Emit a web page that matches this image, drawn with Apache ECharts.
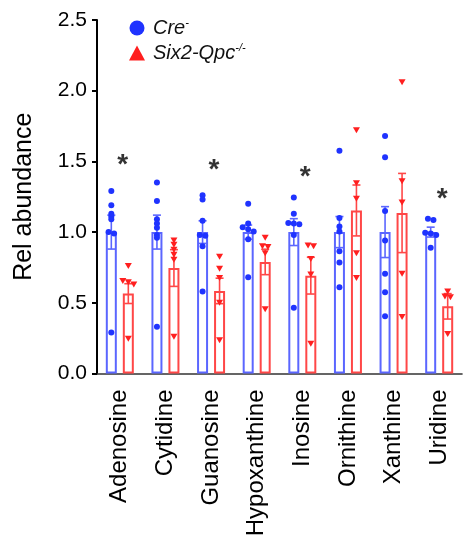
<!DOCTYPE html>
<html>
<head>
<meta charset="utf-8">
<script src="https://cdn.jsdelivr.net/npm/echarts@6/dist/echarts.min.js"></script>
<style>
  html, body { margin: 0; padding: 0; background: #fff; }
  #chart { width: 465px; height: 536px; }
</style>
</head>
<body>
<div id="chart"></div>
<script>
// ---------------- data ----------------
const categories = ['Adenosine', 'Cytidine', 'Guanosine', 'Hypoxanthine', 'Inosine', 'Ornithine', 'Xanthine', 'Uridine'];
const yTicks = [0, 0.5, 1.0, 1.5, 2.0, 2.5];

const groupNames = ['Cre', 'Six2-Qpc'];
const groupSup = ['-', '-/-'];

const creMean = [1.00, 1.00, 1.00, 1.00, 1.00, 1.00, 1.00, 1.00];
const creSem  = [0.12, 0.12, 0.08, 0.05, 0.095, 0.11, 0.18, 0.035];
const qpcMean = [0.565, 0.746, 0.584, 0.789, 0.692, 1.153, 1.135, 0.475];
const qpcSem  = [0.07, 0.13, 0.09, 0.09, 0.13, 0.18, 0.28, 0.09];

const crePoints = [
  [1.29, 1.19, 1.13, 1.11, 1.09, 1.00, 0.99, 0.29],
  [1.35, 1.22, 1.09, 1.06, 1.03, 0.98, 0.96, 0.33],
  [1.26, 1.23, 1.08, 0.98, 0.975, 0.90, 0.58],
  [1.20, 1.06, 1.035, 1.02, 1.005, 0.95, 0.68],
  [1.245, 1.13, 1.065, 1.06, 1.055, 0.98, 0.465],
  [1.575, 1.10, 1.04, 1.005, 0.865, 0.785, 0.61],
  [1.68, 1.53, 1.15, 0.94, 0.705, 0.575, 0.405],
  [1.095, 1.085, 0.995, 0.99, 0.98, 0.89]
];
const qpcPoints = [
  [0.76, 0.655, 0.645, 0.63, 0.245],
  [0.94, 0.91, 0.875, 0.84, 0.805, 0.26],
  [0.825, 0.74, 0.675, 0.50, 0.235],
  [0.96, 0.90, 0.895, 0.85, 0.455],
  [0.905, 0.90, 0.81, 0.70, 0.21],
  [1.72, 1.345, 1.235, 0.85, 0.675],
  [2.06, 1.36, 1.21, 0.705, 0.40],
  [0.58, 0.545, 0.54, 0.28]
];
// significance marks (level at which the asterisk is drawn), null = none
const sigLevel = [1.52, null, 1.49, null, 1.44, null, null, 1.285];

// ---------------- layout / style ----------------
const W = 465, H = 536;
const GRID = { left: 97, right: 3, top: 20, bottom: 162.5, outerBoundsMode: 'none', containLabel: false };
const YMAX = 2.5;
const catW = (W - GRID.left - GRID.right) / categories.length;
const pxPerUnit = (H - GRID.top - GRID.bottom) / YMAX;
const BAR_W = 11;
const BAR_GAP = 6;
const halfOff = (BAR_W + BAR_GAP) / 2 / catW; // in category units

const BLUE_PT = '#1f33ff', RED_PT = '#ff1f1f';
const BLUE_BAR = '#5b66ff', RED_BAR = '#ff4747';
const FONT = "'Liberation Sans', Arial, Helvetica, sans-serif";

// simple symmetric beeswarm: points whose values are very close are spread sideways
function swarm(values, idx, off, stepPx, threshPx) {
  const order = values.map((v, k) => k).sort((a, b) => values[b] - values[a]);
  const out = [];
  let cluster = [];
  const flush = () => {
    const n = cluster.length;
    cluster.forEach((k, j) => {
      const dx = (j - (n - 1) / 2) * stepPx / catW;
      out.push([idx + off + dx, values[k]]);
    });
    cluster = [];
  };
  order.forEach(k => {
    if (cluster.length && (values[cluster[cluster.length - 1]] - values[k]) * pxPerUnit >= threshPx) flush();
    cluster.push(k);
  });
  flush();
  return out;
}

const creScatter = [], qpcScatter = [];
crePoints.forEach((vals, i) => creScatter.push(...swarm(vals, i, -halfOff, 5.5, 2.2)));
qpcPoints.forEach((vals, i) => qpcScatter.push(...swarm(vals, i, halfOff, 5.5, 2.2)));

function errorBarSeries(mean, sem, off, color) {
  return {
    type: 'custom',
    xAxisIndex: 1,
    z: 3,
    silent: true,
    data: mean.map((m, i) => [i + off, m - sem[i], m + sem[i]]),
    renderItem: function (params, api) {
      const x = api.value(0);
      const lo = api.coord([x, api.value(1)]);
      const hi = api.coord([x, api.value(2)]);
      const cap = 4;
      const st = { stroke: color, lineWidth: 1.6 };
      return {
        type: 'group',
        children: [
          { type: 'line', shape: { x1: lo[0], y1: lo[1], x2: hi[0], y2: hi[1] }, style: st },
          { type: 'line', shape: { x1: hi[0] - cap, y1: hi[1], x2: hi[0] + cap, y2: hi[1] }, style: st },
          { type: 'line', shape: { x1: lo[0] - cap, y1: lo[1], x2: lo[0] + cap, y2: lo[1] }, style: st }
        ]
      };
    }
  };
}

const sigData = [];
sigLevel.forEach((v, i) => { if (v != null) sigData.push([i + 3 / catW, v]); });

const chart = echarts.init(document.getElementById('chart'), null, { renderer: 'canvas' });
const option = {
  animation: false,
  backgroundColor: '#fff',
  textStyle: { fontFamily: FONT },
  grid: GRID,
  legend: {
    orient: 'vertical',
    left: 124,
    top: 12,
    itemWidth: 16,
    itemHeight: 15,
    itemGap: 4,
    selectedMode: false,
    data: [
      { name: groupNames[0], icon: 'circle' },
      { name: groupNames[1], icon: 'triangle' }
    ],
    formatter: function (name) {
      const k = groupNames.indexOf(name);
      return '{i|' + name + '}{s|' + groupSup[k] + '}';
    },
    textStyle: {
      color: '#111',
      rich: {
        i: { fontStyle: 'italic', fontSize: 20, fontFamily: FONT, color: '#111', lineHeight: 22, padding: [0, 0, 0, 3] },
        s: { fontStyle: 'italic', fontSize: 11, fontFamily: FONT, color: '#111', verticalAlign: 'top', lineHeight: 22, padding: [0, 0, 8, 0] }
      }
    }
  },
  xAxis: [
    {
      type: 'category',
      data: categories,
      axisLine: { lineStyle: { color: '#333', width: 1.6 } },
      axisTick: { alignWithLabel: true, length: 8, lineStyle: { color: '#000', width: 2 } },
      axisLabel: { rotate: 90, fontSize: 24, color: '#000', margin: 16, fontFamily: FONT, interval: 0 },
      splitLine: { show: false }
    },
    {
      type: 'value',
      min: -0.5,
      max: categories.length - 0.5,
      show: false
    }
  ],
  yAxis: {
    type: 'value',
    min: 0,
    max: YMAX,
    interval: 0.5,
    name: 'Rel abundance',
    nameLocation: 'middle',
    nameGap: 60,
    nameTextStyle: { fontSize: 25, color: '#000', fontFamily: FONT },
    axisLine: { show: true, onZero: false, lineStyle: { color: '#000', width: 2 } },
    axisTick: { show: true, length: 5, lineStyle: { color: '#000', width: 2 } },
    axisLabel: {
      fontSize: 21, color: '#000', margin: 10, fontFamily: FONT,
      formatter: v => (yTicks.indexOf(v) >= 0 ? v.toFixed(1) : '')
    },
    splitLine: { show: false }
  },
  series: [
    {
      type: 'bar',
      name: 'creBar',
      data: creMean,
      barWidth: BAR_W,
      barGap: (BAR_GAP / BAR_W * 100) + '%',
      itemStyle: { color: 'rgba(255,255,255,0)', borderColor: BLUE_BAR, borderWidth: 2 },
      z: 2,
      silent: true
    },
    {
      type: 'bar',
      name: 'qpcBar',
      data: qpcMean,
      barWidth: BAR_W,
      barGap: (BAR_GAP / BAR_W * 100) + '%',
      itemStyle: { color: 'rgba(255,255,255,0)', borderColor: RED_BAR, borderWidth: 2 },
      z: 2,
      silent: true
    },
    errorBarSeries(creMean, creSem, -halfOff, BLUE_BAR),
    errorBarSeries(qpcMean, qpcSem, halfOff, RED_BAR),
    {
      type: 'scatter',
      name: groupNames[0],
      xAxisIndex: 1,
      data: creScatter,
      symbol: 'circle',
      symbolSize: 6,
      itemStyle: { color: BLUE_PT, opacity: 1 },
      z: 5
    },
    {
      type: 'scatter',
      name: groupNames[1],
      xAxisIndex: 1,
      data: qpcScatter,
      symbol: 'path://M0,0L10,0L5,9Z',
      symbolSize: [7, 6],
      itemStyle: { color: RED_PT, opacity: 1 },
      z: 5
    },
    {
      type: 'scatter',
      name: 'sig',
      xAxisIndex: 1,
      data: sigData,
      symbolSize: 1,
      itemStyle: { color: 'rgba(0,0,0,0)' },
      label: {
        show: true,
        position: 'inside',
        formatter: '*',
        fontSize: 28,
        fontWeight: 'bold',
        color: '#000',
        fontFamily: FONT,
        offset: [0, 7]
      },
      z: 6,
      silent: true
    }
  ]
};
chart.setOption(option);
</script>
</body>
</html>
